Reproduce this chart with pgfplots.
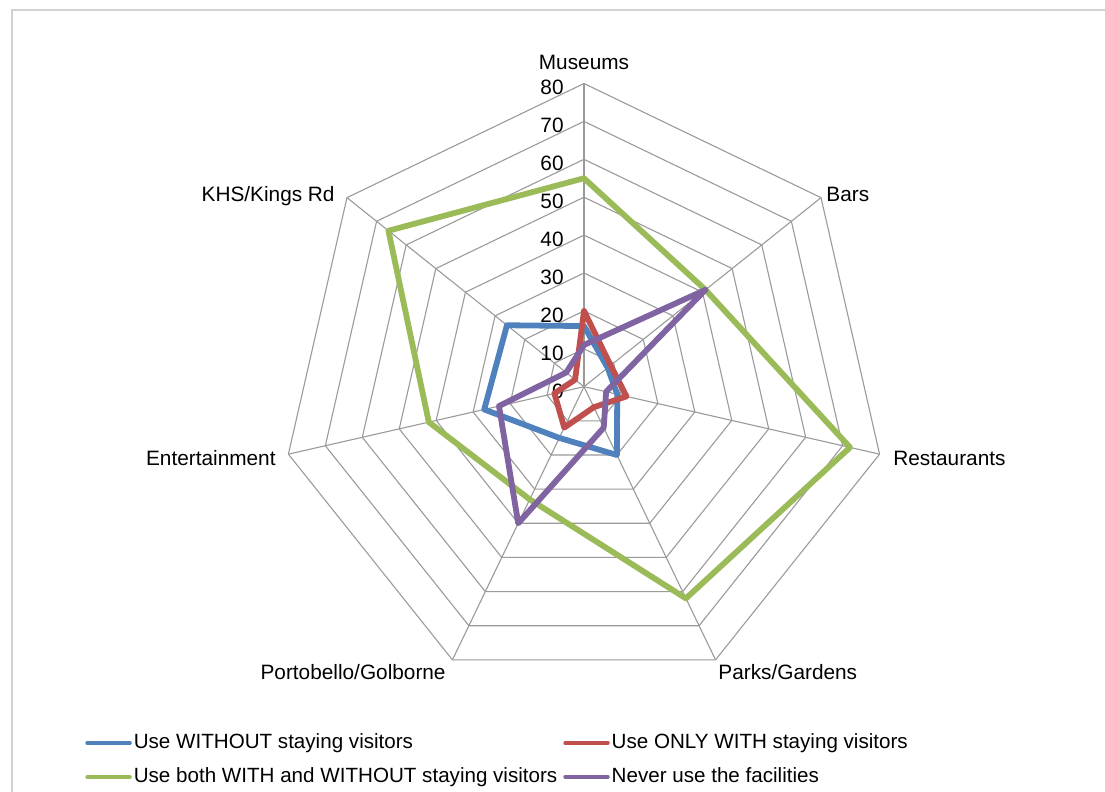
\documentclass[border=0pt]{standalone}
\usepackage{pgfplots}
\pgfplotsset{compat=1.18}
\usepackage{pgfplotstable}
\usepgfplotslibrary{polar}
\usepackage{fontspec}
\setmainfont{Liberation Sans}
\definecolor{cblue}{HTML}{4F81BD}
\definecolor{cred}{HTML}{C0504D}
\definecolor{cgreen}{HTML}{9BBB59}
\definecolor{cpurple}{HTML}{8064A2}
\definecolor{gridc}{HTML}{9A9A9A}

% angle (deg, counter-clockwise from east), one column per series
\pgfplotstableread{
angle without onlywith both never
90 16 20 55 11
38.5714 8 9 41 41
347.1429 9 11.5 72 6
295.7143 20 6 62 12
244.2857 15 12 33 40
192.8571 27 8 42 23
141.4286 26 3 66 6
90 16 20 55 11
}\radardata

\begin{document}
\begin{tikzpicture}[font=\fontsize{10.4}{12.5}\selectfont]
\useasboundingbox (-292pt,-202.65pt) rectangle (260.5pt,193.35pt);
\draw[gray!35, line width=1pt] (-286pt,-202.65pt) -- (-286pt,188.35pt) -- (260.5pt,188.35pt);
\coordinate (legpos) at (-249.5pt,-173pt);
\begin{polaraxis}[
  at={(0pt,0pt)}, anchor=center,
  width=303.2pt, height=303.2pt, scale only axis,
  xmin=0, xmax=360, ymin=0, ymax=80,
  hide axis, clip=false,
  legend columns=2, legend cell align=left,
  legend style={at={(legpos)}, anchor=north west, draw=none, fill=none,
    inner sep=0pt, row sep=7.2pt,
    nodes={inner xsep=1pt, inner ysep=0pt, text height=7.6pt, text depth=2.2pt,
      font=\fontsize{10.3}{12.5}\selectfont},
    /tikz/every even column/.append style={column sep=2pt}},
  legend image code/.code={\draw[#1, line width=1.7pt] (0pt,0pt) -- (21.5pt,0pt);},
]
\pgfplotsinvokeforeach{90,38.5714,347.1429,295.7143,244.2857,192.8571,141.4286}{
  \addplot[gridc, line width=0.55pt, forget plot] coordinates {(#1,0) (#1,80)};
}
\pgfplotsinvokeforeach{10,20,30,40,50,60,70,80}{
  \addplot[gridc, line width=0.55pt, forget plot] coordinates {(90,#1) (38.5714,#1) (347.1429,#1) (295.7143,#1) (244.2857,#1) (192.8571,#1) (141.4286,#1) (90,#1)};
}
\pgfplotsinvokeforeach{0,10,20,30,40,50,60,70,80}{
  \node[anchor=base east, inner sep=0pt, xshift=-10pt, yshift=-5.7pt] at (axis cs:90,#1) {#1};
}
\addplot[cblue, line width=2.9pt, line join=round, line cap=round, no markers] table[x=angle, y=without] {\radardata};
\addlegendentry{Use WITHOUT staying visitors}
\addplot[cred, line width=2.9pt, line join=round, line cap=round, no markers] table[x=angle, y=onlywith] {\radardata};
\addlegendentry{Use ONLY WITH staying visitors}
\addplot[cgreen, line width=2.9pt, line join=round, line cap=round, no markers] table[x=angle, y=both] {\radardata};
\addlegendentry{Use both WITH and WITHOUT staying visitors}
\addplot[cpurple, line width=2.9pt, line join=round, line cap=round, no markers] table[x=angle, y=never] {\radardata};
\addlegendentry{Never use the facilities}
\end{polaraxis}
\node[anchor=base, inner sep=0pt] at (0pt,158.65pt) {Museums};
\node[anchor=base west, inner sep=0pt] at (121pt,92.65pt) {Bars};
\node[anchor=base west, inner sep=0pt] at (154.5pt,-39.35pt) {Restaurants};
\node[anchor=base west, inner sep=0pt] at (67pt,-146.35pt) {Parks/Gardens};
\node[anchor=base east, inner sep=0pt] at (-69pt,-146.35pt) {Portobello/Golborne};
\node[anchor=base east, inner sep=0pt] at (-154pt,-39.35pt) {Entertainment};
\node[anchor=base east, inner sep=0pt] at (-124.5pt,92.65pt) {KHS/Kings Rd};
\end{tikzpicture}
\end{document}
